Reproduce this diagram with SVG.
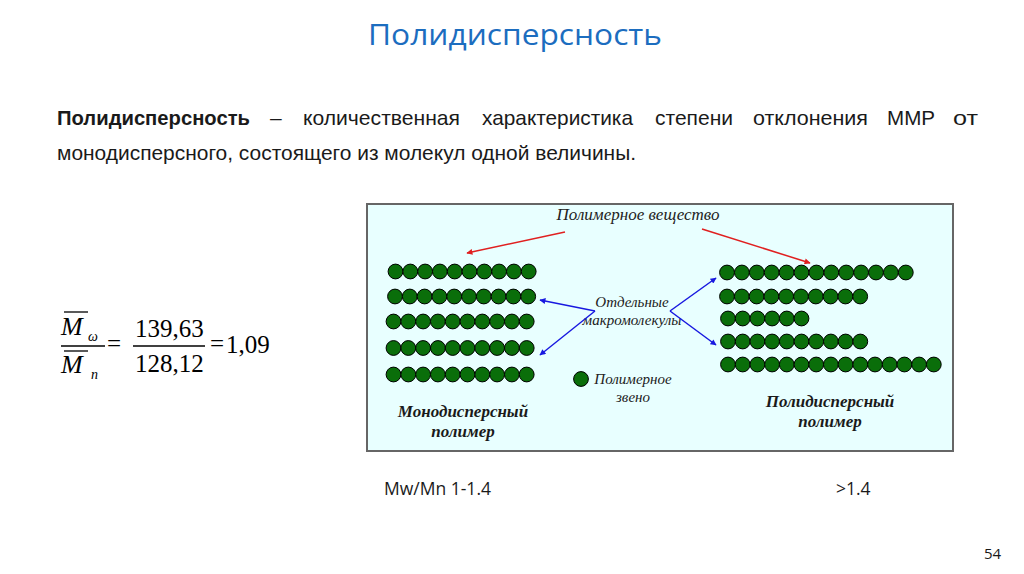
<svg xmlns="http://www.w3.org/2000/svg" xmlns:xlink="http://www.w3.org/1999/xlink" width="1024" height="574" viewBox="0 0 1024 574">
<style>
.title{font-family:"Open Sans","Liberation Sans",sans-serif;font-size:29px;fill:#1C6DBF}
.p{font-family:"Liberation Sans",Arial,sans-serif;font-size:21px;fill:#1a1a1a}
.pb{font-weight:bold}
.it{font-family:"Liberation Serif","Times New Roman",serif;font-style:italic;fill:#222}
.lab{font-size:15px}
.lab2{font-size:17px}
.bi{font-family:"Liberation Serif","Times New Roman",serif;font-style:italic;font-weight:bold;font-size:17px;fill:#1a1a1a}
.f{font-family:"Liberation Serif","Times New Roman",serif;font-size:25px;fill:#000}
.fi{font-style:italic;font-size:26px}
.fs{font-family:"Liberation Serif","Times New Roman",serif;font-style:italic;font-size:14px;fill:#000}
.c{font-family:"Open Sans","Liberation Sans",sans-serif;font-size:17.5px;fill:#1a1a1a}
.red{stroke:#E02020;stroke-width:1.5;fill:none}
.blue{stroke:#1818E0;stroke-width:1.5;fill:none}
.bar{stroke:#000;stroke-width:1.3}
</style>
<defs>
<circle id="u" r="7.4" fill="#0A6E0A" stroke="#000" stroke-width="1"/>
<marker id="ar" viewBox="0 0 10 10" refX="9" refY="5" markerWidth="7" markerHeight="6" orient="auto" markerUnits="userSpaceOnUse">
<path d="M0,0 L10,5 L0,10 z" fill="#E02020"/>
</marker>
<marker id="ab" viewBox="0 0 10 10" refX="9" refY="5" markerWidth="7" markerHeight="6" orient="auto" markerUnits="userSpaceOnUse">
<path d="M0,0 L10,5 L0,10 z" fill="#1818E0"/>
</marker>
</defs>
<rect width="1024" height="574" fill="#fff"/>
<text class="title" x="368" y="45" textLength="294" lengthAdjust="spacingAndGlyphs">Полидисперсность</text>
<g id="paragraph">
<text class="p pb" x="57" y="125" textLength="193" lengthAdjust="spacingAndGlyphs">Полидисперсность</text>
<text class="p" x="270" y="125">–</text>
<text class="p" x="303" y="125" textLength="157" lengthAdjust="spacingAndGlyphs">количественная</text>
<text class="p" x="482" y="125" textLength="151" lengthAdjust="spacingAndGlyphs">характеристика</text>
<text class="p" x="655" y="125" textLength="78" lengthAdjust="spacingAndGlyphs">степени</text>
<text class="p" x="753" y="125" textLength="115" lengthAdjust="spacingAndGlyphs">отклонения</text>
<text class="p" x="887" y="125" textLength="48" lengthAdjust="spacingAndGlyphs">ММР</text>
<text class="p" x="953" y="125" textLength="25" lengthAdjust="spacingAndGlyphs">от</text>
<text class="p" x="57" y="160" textLength="579" lengthAdjust="spacingAndGlyphs">монодисперсного, состоящего из молекул одной величины.</text>
</g>
<g id="formula">
<line class="bar" x1="64" y1="312" x2="88" y2="312"/>
<text class="f fi" x="61" y="335">M</text>
<text class="fs" x="88" y="341">ω</text>
<line class="bar" x1="61" y1="346" x2="105" y2="346"/>
<line class="bar" x1="64" y1="351" x2="88" y2="351"/>
<text class="f fi" x="61" y="373">M</text>
<text class="fs" x="91" y="379">n</text>
<text class="f" x="107" y="352">=</text>
<text class="f" x="135" y="337">139,63</text>
<line class="bar" x1="133" y1="346" x2="205" y2="346"/>
<text class="f" x="135" y="372">128,12</text>
<text class="f" x="210" y="352">=</text>
<text class="f" x="226" y="353">1,09</text>
</g>
<g id="panel">
<rect x="367" y="204" width="586" height="247" fill="#E8FFFF" stroke="#666" stroke-width="2"/>
</g>
<g id="mono">
<g transform="translate(395.5,271.5)"><use xlink:href="#u" x="0"/><use xlink:href="#u" x="14.8"/><use xlink:href="#u" x="29.6"/><use xlink:href="#u" x="44.4"/><use xlink:href="#u" x="59.2"/><use xlink:href="#u" x="74"/><use xlink:href="#u" x="88.8"/><use xlink:href="#u" x="103.6"/><use xlink:href="#u" x="118.4"/><use xlink:href="#u" x="133.2"/></g>
<g transform="translate(395,296.5)"><use xlink:href="#u" x="0"/><use xlink:href="#u" x="14.8"/><use xlink:href="#u" x="29.6"/><use xlink:href="#u" x="44.4"/><use xlink:href="#u" x="59.2"/><use xlink:href="#u" x="74"/><use xlink:href="#u" x="88.8"/><use xlink:href="#u" x="103.6"/><use xlink:href="#u" x="118.4"/><use xlink:href="#u" x="133.2"/></g>
<g transform="translate(393.5,321.5)"><use xlink:href="#u" x="0"/><use xlink:href="#u" x="14.8"/><use xlink:href="#u" x="29.6"/><use xlink:href="#u" x="44.4"/><use xlink:href="#u" x="59.2"/><use xlink:href="#u" x="74"/><use xlink:href="#u" x="88.8"/><use xlink:href="#u" x="103.6"/><use xlink:href="#u" x="118.4"/><use xlink:href="#u" x="133.2"/></g>
<g transform="translate(393.5,348)"><use xlink:href="#u" x="0"/><use xlink:href="#u" x="14.8"/><use xlink:href="#u" x="29.6"/><use xlink:href="#u" x="44.4"/><use xlink:href="#u" x="59.2"/><use xlink:href="#u" x="74"/><use xlink:href="#u" x="88.8"/><use xlink:href="#u" x="103.6"/><use xlink:href="#u" x="118.4"/><use xlink:href="#u" x="133.2"/></g>
<g transform="translate(393.5,374.5)"><use xlink:href="#u" x="0"/><use xlink:href="#u" x="14.8"/><use xlink:href="#u" x="29.6"/><use xlink:href="#u" x="44.4"/><use xlink:href="#u" x="59.2"/><use xlink:href="#u" x="74"/><use xlink:href="#u" x="88.8"/><use xlink:href="#u" x="103.6"/><use xlink:href="#u" x="118.4"/><use xlink:href="#u" x="133.2"/></g>
<text class="bi" x="463" y="417" text-anchor="middle">Монодисперсный</text>
<text class="bi" x="463" y="437" text-anchor="middle">полимер</text>
</g>
<g id="poly">
<g transform="translate(727,272.5)"><use xlink:href="#u" x="0"/><use xlink:href="#u" x="14.9"/><use xlink:href="#u" x="29.8"/><use xlink:href="#u" x="44.7"/><use xlink:href="#u" x="59.6"/><use xlink:href="#u" x="74.5"/><use xlink:href="#u" x="89.4"/><use xlink:href="#u" x="104.3"/><use xlink:href="#u" x="119.2"/><use xlink:href="#u" x="134.1"/><use xlink:href="#u" x="149"/><use xlink:href="#u" x="163.9"/><use xlink:href="#u" x="178.8"/></g>
<g transform="translate(727,296.5)"><use xlink:href="#u" x="0"/><use xlink:href="#u" x="14.8"/><use xlink:href="#u" x="29.6"/><use xlink:href="#u" x="44.4"/><use xlink:href="#u" x="59.2"/><use xlink:href="#u" x="74"/><use xlink:href="#u" x="88.8"/><use xlink:href="#u" x="103.6"/><use xlink:href="#u" x="118.4"/><use xlink:href="#u" x="133.2"/></g>
<g transform="translate(728,318.5)"><use xlink:href="#u" x="0"/><use xlink:href="#u" x="14.7"/><use xlink:href="#u" x="29.4"/><use xlink:href="#u" x="44.1"/><use xlink:href="#u" x="58.8"/><use xlink:href="#u" x="73.5"/></g>
<g transform="translate(728,341.5)"><use xlink:href="#u" x="0"/><use xlink:href="#u" x="14.7"/><use xlink:href="#u" x="29.4"/><use xlink:href="#u" x="44.1"/><use xlink:href="#u" x="58.8"/><use xlink:href="#u" x="73.5"/><use xlink:href="#u" x="88.2"/><use xlink:href="#u" x="102.9"/><use xlink:href="#u" x="117.6"/><use xlink:href="#u" x="132.3"/></g>
<g transform="translate(728,364.5)"><use xlink:href="#u" x="0"/><use xlink:href="#u" x="14.7"/><use xlink:href="#u" x="29.4"/><use xlink:href="#u" x="44.1"/><use xlink:href="#u" x="58.8"/><use xlink:href="#u" x="73.5"/><use xlink:href="#u" x="88.2"/><use xlink:href="#u" x="102.9"/><use xlink:href="#u" x="117.6"/><use xlink:href="#u" x="132.3"/><use xlink:href="#u" x="147"/><use xlink:href="#u" x="161.7"/><use xlink:href="#u" x="176.4"/><use xlink:href="#u" x="191.1"/><use xlink:href="#u" x="205.8"/></g>
<text class="bi" x="830" y="407" text-anchor="middle">Полидисперсный</text>
<text class="bi" x="830" y="427" text-anchor="middle">полимер</text>
</g>
<g id="labels">
<text class="it lab2" x="638" y="220" text-anchor="middle">Полимерное вещество</text>
<text class="it lab" x="632" y="307" text-anchor="middle">Отдельные</text>
<text class="it lab" x="632" y="325" text-anchor="middle">макромолекулы</text>
<use xlink:href="#u" x="581" y="379"/>
<text class="it lab" x="633" y="384" text-anchor="middle">Полимерное</text>
<text class="it lab" x="633" y="402" text-anchor="middle">звено</text>
</g>
<g id="connectors">
<line class="red" x1="565" y1="232" x2="467" y2="253" marker-end="url(#ar)"/>
<line class="red" x1="702" y1="229" x2="810" y2="263" marker-end="url(#ar)"/>
<line class="blue" x1="595" y1="311" x2="540" y2="355" marker-end="url(#ab)"/>
<line class="blue" x1="595" y1="311" x2="540" y2="300" marker-end="url(#ab)"/>
<line class="blue" x1="670" y1="311" x2="716" y2="278" marker-end="url(#ab)"/>
<line class="blue" x1="670" y1="311" x2="716" y2="345" marker-end="url(#ab)"/>
</g>
<text class="c" x="384" y="495">Mw/Mn 1-1.4</text>
<text class="c" x="836" y="495">&gt;1.4</text>
<text class="c" x="984" y="559" style="font-size:15px">54</text>
</svg>
